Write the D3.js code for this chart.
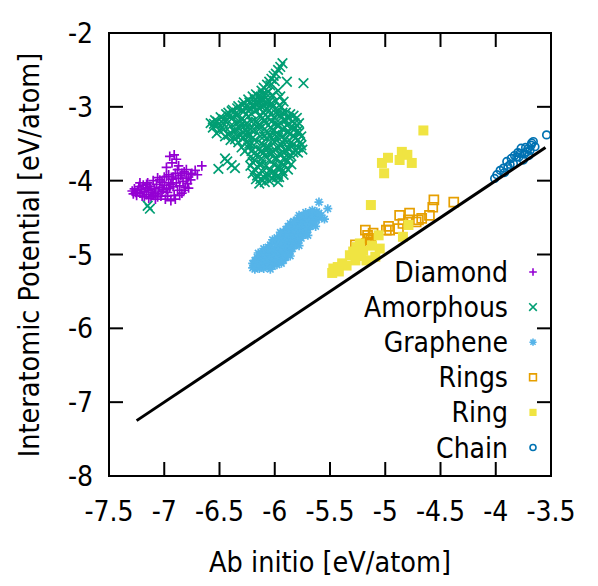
<!DOCTYPE html>
<html><head><meta charset="utf-8">
<script src="https://cdn.jsdelivr.net/npm/d3@7"></script>
<style>
html,body{margin:0;padding:0;background:#fff;}
text{font-family:"DejaVu Sans Condensed","DejaVu Sans",sans-serif;font-stretch:condensed;fill:#000;}
</style></head>
<body>
<svg id="chart" width="598" height="586"></svg>
<script>
const xTicks = [-7.5,-7,-6.5,-6,-5.5,-5,-4.5,-4,-3.5];
const yTicks = [-8,-7,-6,-5,-4,-3,-2];
const seriesNames = ["Diamond","Amorphous","Graphene","Rings","Ring","Chain"];
const seriesColors = ["#9400d3","#009e73","#56b4e9","#e69f00","#f0e442","#0072b2"];
const fitLine = [[-7.25,-7.25],[-3.55,-3.55]];

const diamond = [
[-7.29,-4.14],[-7.28,-4.18],[-7.27,-4.11],[-7.26,-4.16],[-7.25,-4.20],[-7.24,-4.13],[-7.23,-4.08],[-7.22,-4.17],[-7.21,-4.12],[-7.20,-4.21],
[-7.19,-4.06],[-7.18,-4.15],[-7.17,-4.10],[-7.16,-4.19],[-7.15,-4.03],[-7.14,-4.13],[-7.13,-4.08],[-7.12,-4.22],[-7.11,-4.16],[-7.10,-4.00],
[-7.09,-4.11],[-7.08,-4.18],[-7.07,-4.05],[-7.06,-3.96],[-7.05,-4.14],[-7.04,-4.09],[-7.03,-4.21],[-7.02,-4.02],[-7.01,-4.12],[-7.00,-4.06],
[-6.99,-4.25],[-6.98,-3.94],[-6.97,-4.16],[-6.96,-4.03],[-6.95,-4.10],[-6.94,-4.27],[-6.93,-3.98],[-6.92,-4.08],[-6.91,-4.20],[-6.90,-3.90],
[-6.89,-4.03],[-6.88,-4.13],[-6.87,-3.97],[-6.86,-4.07],[-6.85,-3.93],[-6.84,-4.17],[-6.83,-4.01],[-6.82,-3.88],[-6.81,-4.09],[-6.80,-3.97],
[-6.79,-4.04],[-6.78,-3.95],[-6.76,-3.99],[-6.75,-3.90],[-6.72,-3.86],[-6.70,-3.92],[-6.66,-3.80],[-6.95,-3.67],[-6.91,-3.65],[-6.89,-3.71],
[-7.08,-4.25],[-6.97,-4.21],
[-7.22,-4.03],[-7.18,-4.22],[-7.14,-4.24],[-7.10,-4.20],[-7.06,-4.22],[-7.04,-3.99],[-7.00,-3.95],[-6.98,-4.12],[-6.96,-3.92],[-6.94,-4.05],
[-6.92,-3.95],[-6.90,-4.25],[-6.88,-3.85],[-6.86,-4.20],[-6.84,-3.90],[-6.82,-4.13],[-6.80,-3.85],[-6.78,-4.10],[-6.76,-3.92],[-6.93,-3.76],
[-6.87,-3.80],[-6.98,-3.82],[-7.02,-4.15],[-7.12,-4.12],[-7.16,-4.05]
];

const amorphous = [
[-7.15,-4.34],[-7.13,-4.38],[-6.525,-3.36],[-6.51,-3.84],[-6.45,-3.70],[-6.39,-3.79],[-6.36,-3.83],[-6.43,-3.74],
[-5.93,-2.41],[-5.95,-2.46],[-5.97,-2.50],[-5.99,-2.55],[-6.01,-2.58],[-6.03,-2.62],[-6.05,-2.66],[-6.07,-2.70],[-6.10,-2.74],[-6.12,-2.78],
[-6.04,-2.71],[-6.00,-2.65],[-5.89,-2.66],[-5.74,-2.68],[-5.95,-2.86],[-5.92,-2.93],[-5.97,-2.78],[-6.02,-2.84],
[-6.58,-3.22],[-6.56,-3.28],[-6.54,-3.18],[-6.52,-3.25],[-6.50,-3.32],[-6.49,-3.14],[-6.47,-3.22],[-6.46,-3.30],[-6.44,-3.10],[-6.43,-3.18],
[-6.42,-3.38],[-6.40,-3.26],[-6.39,-3.06],[-6.38,-3.15],[-6.37,-3.33],[-6.36,-3.44],[-6.35,-3.22],[-6.34,-3.02],[-6.33,-3.10],[-6.32,-3.29],
[-6.31,-3.39],[-6.30,-3.17],[-6.29,-2.98],[-6.28,-3.06],[-6.27,-3.25],[-6.26,-3.48],[-6.25,-3.35],[-6.24,-3.13],[-6.23,-2.94],[-6.22,-3.02],
[-6.21,-3.20],[-6.20,-3.42],[-6.19,-3.30],[-6.18,-2.90],[-6.17,-3.05],[-6.16,-2.97],[-6.15,-2.86],[-6.14,-3.12],[-6.13,-2.92],[-6.12,-3.00],
[-6.11,-2.83],[-6.10,-3.08],[-6.09,-2.95],[-6.08,-2.88],[-6.07,-3.02],[-6.06,-2.80],[-6.05,-2.93],[-6.04,-3.10],
[-6.02,-3.00],[-6.00,-3.15],[-5.99,-2.92],[-5.98,-3.25],[-5.97,-3.05],[-5.96,-3.38],[-5.95,-3.12],[-5.94,-3.00],[-5.93,-3.30],[-5.92,-3.18],
[-5.91,-3.45],[-5.90,-3.08],[-5.89,-3.25],[-5.88,-3.55],[-5.87,-3.15],[-5.86,-3.36],[-5.85,-3.48],[-5.84,-3.20],[-5.83,-3.62],[-5.82,-3.30],
[-5.81,-3.42],[-5.80,-3.25],[-5.79,-3.55],[-5.78,-3.35],[-5.77,-3.48],[-5.76,-3.40],[-5.75,-3.58],[-5.86,-3.65],[-5.90,-3.60],[-5.94,-3.52],
[-6.08,-3.22],[-6.06,-3.35],[-6.04,-3.28],[-6.02,-3.45],[-6.00,-3.38],[-6.10,-3.40],[-6.12,-3.50],[-6.14,-3.30],
[-6.24,-3.55],[-6.22,-3.68],[-6.21,-3.60],[-6.20,-3.75],[-6.19,-3.52],[-6.18,-3.85],[-6.17,-3.66],[-6.16,-3.93],[-6.15,-3.58],[-6.14,-3.78],
[-6.13,-3.98],[-6.12,-3.70],[-6.11,-3.88],[-6.10,-3.62],[-6.09,-4.02],[-6.08,-3.80],[-6.07,-3.55],[-6.06,-3.92],[-6.05,-3.72],[-6.04,-3.85],
[-6.03,-3.64],[-6.02,-3.97],[-6.01,-3.78],[-6.00,-3.58],[-5.99,-3.90],[-5.98,-3.70],[-5.97,-3.82],[-5.96,-3.95],[-5.95,-3.63],[-5.94,-3.76],
[-5.93,-3.87],[-5.92,-3.70],[-5.91,-3.80],[-5.89,-3.74],[-5.87,-3.68],[-6.14,-4.04],[-6.05,-4.00],[-5.97,-4.02],
[-6.33,-3.48],[-6.30,-3.55],[-6.28,-3.42],[-6.27,-3.60],[-6.25,-3.22],[-6.23,-3.50],[-6.22,-3.30],[-6.20,-3.58],[-6.18,-3.45],[-6.17,-3.20],
[-6.13,-3.25],[-6.12,-3.60],[-6.11,-3.15],[-6.10,-3.52],[-6.09,-3.30],[-6.08,-3.68],[-6.07,-3.42],[-6.06,-3.15],[-6.05,-3.55],[-6.04,-3.40],
[-6.03,-3.20],[-6.02,-3.60],[-6.01,-3.32],[-6.00,-3.48],[-5.99,-3.22],[-5.98,-3.55],[-5.97,-3.42],[-5.96,-3.25],[-5.95,-3.50],[-5.93,-3.40],
[-5.92,-3.62],[-5.91,-3.28],[-5.89,-3.48],[-5.88,-3.35],[-5.87,-3.58],[-5.85,-3.28],[-5.84,-3.52],[-5.83,-3.40],[-5.81,-3.60],[-5.80,-3.15],
[-5.79,-3.45],[-5.78,-3.22],[-5.79,-3.62],[-6.35,-3.30],[-6.32,-3.20],[-6.29,-3.35],[-6.26,-3.10],[-6.24,-3.40],[-6.21,-3.10],[-6.19,-3.00],
[-6.14,-3.02],[-6.11,-2.98],[-6.09,-3.18],[-6.03,-2.95],[-5.98,-3.10],[-5.96,-2.98],[-5.93,-3.08],[-5.90,-3.18],[-5.86,-3.10],[-5.83,-3.12],
[-5.82,-3.22],[-5.79,-3.32],[-5.76,-3.52],[-5.85,-3.78],[-5.88,-3.85],[-5.92,-3.92],[-5.95,-3.82],[-6.00,-3.70],[-6.06,-3.62],[-6.12,-3.78],
[-6.18,-3.72],[-6.22,-3.80],[-6.20,-3.90],[-6.17,-3.98],[-6.10,-3.95],[-6.03,-3.90],[-5.98,-3.95],[-6.08,-2.82],[-6.12,-2.88],[-6.16,-2.92],
[-6.20,-2.97],[-6.25,-3.00],[-6.30,-3.05],[-6.36,-3.10],[-6.41,-3.13],[-6.46,-3.17],[-6.52,-3.20],[-6.55,-3.23],[-6.48,-3.28],[-6.40,-3.35],
[-6.34,-3.40],
[-6.45,-3.40],[-6.42,-3.08],[-6.40,-3.45],[-6.38,-3.04],[-6.33,-2.99],[-6.31,-3.25],[-6.28,-2.94],[-6.26,-3.30],[-6.24,-2.90],[-6.22,-3.38],
[-6.20,-2.86],[-6.17,-2.83],[-6.15,-3.25],[-6.13,-3.40],[-6.10,-2.90],[-6.07,-2.95],[-6.05,-3.05]
];

const graphene = [
[-6.20,-5.18],[-6.20,-5.12],[-6.18,-5.15],[-6.18,-5.20],[-6.18,-5.08],[-6.16,-5.10],[-6.16,-5.17],[-6.16,-5.04],
[-6.14,-5.13],[-6.14,-5.19],[-6.14,-5.06],[-6.14,-5.01],[-6.12,-5.09],[-6.12,-5.16],[-6.12,-5.03],[-6.12,-4.98],
[-6.10,-5.12],[-6.10,-5.19],[-6.10,-5.05],[-6.10,-4.97],[-6.08,-5.08],[-6.08,-5.15],[-6.08,-5.01],[-6.08,-4.94],
[-6.06,-5.11],[-6.06,-5.17],[-6.06,-5.04],[-6.06,-4.97],[-6.06,-4.90],[-6.04,-5.07],[-6.04,-5.14],[-6.04,-5.00],[-6.04,-4.93],[-6.04,-4.87],
[-6.02,-5.10],[-6.02,-5.16],[-6.02,-5.03],[-6.02,-4.95],[-6.02,-4.84],[-6.00,-5.05],[-6.00,-5.12],[-6.00,-4.98],[-6.00,-4.91],[-6.00,-4.81],
[-5.98,-5.08],[-5.98,-5.14],[-5.98,-5.01],[-5.98,-4.94],[-5.98,-4.86],[-5.98,-4.77],[-5.96,-5.03],[-5.96,-5.10],[-5.96,-4.96],[-5.96,-4.89],[-5.96,-4.80],
[-5.94,-5.06],[-5.94,-4.99],[-5.94,-4.92],[-5.94,-4.84],[-5.94,-4.74],[-5.92,-5.02],[-5.92,-5.08],[-5.92,-4.95],[-5.92,-4.87],[-5.92,-4.78],[-5.92,-4.70],
[-5.90,-4.98],[-5.90,-5.04],[-5.90,-4.90],[-5.90,-4.82],[-5.90,-4.73],[-5.90,-4.66],[-5.88,-4.94],[-5.88,-5.01],[-5.88,-4.86],[-5.88,-4.78],[-5.88,-4.69],
[-5.86,-4.96],[-5.86,-4.89],[-5.86,-4.81],[-5.86,-4.73],[-5.86,-4.64],[-5.86,-4.58],[-5.84,-4.92],[-5.84,-4.85],[-5.84,-4.77],[-5.84,-4.69],[-5.84,-4.60],
[-5.82,-4.88],[-5.82,-4.81],[-5.82,-4.73],[-5.82,-4.65],[-5.82,-4.56],[-5.80,-4.85],[-5.80,-4.77],[-5.80,-4.69],[-5.80,-4.61],[-5.80,-4.53],
[-5.78,-4.81],[-5.78,-4.74],[-5.78,-4.66],[-5.78,-4.58],[-5.78,-4.51],[-5.76,-4.78],[-5.76,-4.70],[-5.76,-4.62],[-5.76,-4.55],[-5.76,-4.49],
[-5.74,-4.74],[-5.74,-4.67],[-5.74,-4.59],[-5.74,-4.52],[-5.74,-4.47],[-5.72,-4.70],[-5.72,-4.63],[-5.72,-4.56],[-5.72,-4.49],
[-5.70,-4.66],[-5.70,-4.59],[-5.70,-4.52],[-5.70,-4.46],[-5.68,-4.62],[-5.68,-4.55],[-5.68,-4.49],[-5.68,-4.44],
[-5.66,-4.60],[-5.66,-4.52],[-5.66,-4.46],[-5.64,-4.56],[-5.64,-4.49],[-5.64,-4.43],[-5.62,-4.53],[-5.62,-4.46],[-5.62,-4.42],
[-5.60,-4.50],[-5.60,-4.44],[-5.60,-4.29],[-5.58,-4.47],[-5.55,-4.52],[-5.52,-4.38],
[-6.10,-4.92],[-6.02,-4.80],[-5.95,-4.70],[-5.88,-4.62],[-5.83,-4.55],[-5.78,-4.47],[-5.72,-4.43],[-5.66,-4.40],[-6.15,-4.98],
[-6.04,-5.20],[-5.94,-5.12],[-5.86,-5.02],[-5.78,-4.88],[-5.70,-4.74],[-5.63,-4.62]
];

const rings = [
[-4.56,-4.26],[-4.57,-4.36],[-4.38,-4.29],[-4.60,-4.47],[-4.67,-4.51],[-4.70,-4.53],[-4.78,-4.44],[-4.87,-4.47],[-4.79,-4.53],[-4.88,-4.65],
[-4.97,-4.62],[-4.99,-4.67],[-5.11,-4.71],[-5.18,-4.67],[-5.15,-4.78],[-5.17,-4.85],[-5.14,-4.83],[-5.27,-4.87],[-4.96,-4.67],[-5.16,-4.74],
[-5.13,-4.80],[-4.72,-4.56],[-4.84,-4.58]
];

const ring = [
[-4.655,-3.32],[-4.85,-3.61],[-4.80,-3.65],[-4.975,-3.69],[-5.03,-3.76],[-4.87,-3.72],[-4.76,-3.76],[-5.01,-3.90],[-5.13,-4.33],[-5.47,-5.19],
[-5.43,-5.17],[-5.39,-5.12],[-5.32,-5.01],[-5.26,-4.90],[-5.23,-4.85],[-5.06,-4.74],[-5.05,-4.92],[-5.09,-5.03],[-4.84,-4.76],[-4.79,-4.60],
[-5.17,-5.08],[-5.27,-5.08],[-5.29,-4.96],[-5.20,-4.95],[-5.12,-4.88],[-5.45,-5.22],[-5.35,-5.15],[-5.22,-5.02],[-5.48,-5.25],[-5.42,-5.23]
];

const chain = [
[-4.01,-3.97],[-3.99,-3.92],[-3.96,-3.86],[-3.93,-3.83],[-3.90,-3.74],[-3.86,-3.70],[-3.84,-3.77],[-3.81,-3.68],[-3.78,-3.63],[-3.77,-3.56],
[-3.75,-3.72],[-3.72,-3.61],[-3.69,-3.59],[-3.675,-3.49],[-3.66,-3.47],[-3.645,-3.54],[-3.70,-3.66],[-3.54,-3.38],[-3.89,-3.81],[-3.79,-3.68],
[-3.73,-3.55],[-3.80,-3.62],[-3.68,-3.52],[-3.71,-3.57],[-3.87,-3.78],[-3.92,-3.89],[-3.83,-3.66],[-3.74,-3.64]
];

const svg = d3.select("#chart");
const L=109, R=551, T=33, B=476;
const x = d3.scaleLinear().domain([-7.5,-3.5]).range([L,R]);
const y = d3.scaleLinear().domain([-8,-2]).range([B,T]);

function markerPath(type, s){
  switch(type){
    case "plus": return `M${-s},0H${s}M0,${-s}V${s}`;
    case "cross": return `M${-s},${-s}L${s},${s}M${-s},${s}L${s},${-s}`;
    case "star": { const d=s*0.72; return `M${-s},0H${s}M0,${-s}V${s}M${-d},${-d}L${d},${d}M${-d},${d}L${d},${-d}`; }
    case "square": return `M${-s},${-s}H${s}V${s}H${-s}Z`;
    case "circle": return d3.arc()({innerRadius:0,outerRadius:s,startAngle:0,endAngle:2*Math.PI});
  }
}
const types = ["plus","cross","star","square","square","circle"];
const filled = [false,false,false,false,true,false];
const plotSize = [4.8,4.8,4.5,4.5,5.0,3.8];
const keySize = [3.8,3.8,3.6,3.4,3.6,3.0];
const datasets = [diamond, amorphous, graphene, rings, ring, chain];

const plotG = svg.append("g");
datasets.forEach((ds,i)=>{
  plotG.append("g").selectAll("path").data(ds).join("path")
    .attr("transform", d=>`translate(${x(d[0])},${y(d[1])})`)
    .attr("d", markerPath(types[i], plotSize[i]))
    .attr("fill", filled[i] ? seriesColors[i] : "none")
    .attr("stroke", filled[i] ? "none" : seriesColors[i])
    .attr("stroke-width", 1.7);
});

svg.append("path")
  .attr("d", d3.line().x(d=>x(d[0])).y(d=>y(d[1]))(fitLine))
  .attr("stroke","#000").attr("stroke-width",3).attr("fill","none");

const axG = svg.append("g").attr("stroke","#000").attr("stroke-width",2);
const tl = 14;
xTicks.forEach(t=>{
  if (t===-7.5 || t===-3.5) return;
  axG.append("line").attr("x1",x(t)).attr("x2",x(t)).attr("y1",B).attr("y2",B-tl);
  axG.append("line").attr("x1",x(t)).attr("x2",x(t)).attr("y1",T).attr("y2",T+tl);
});
yTicks.forEach(t=>{
  if (t===-8 || t===-2) return;
  axG.append("line").attr("y1",y(t)).attr("y2",y(t)).attr("x1",L).attr("x2",L+tl);
  axG.append("line").attr("y1",y(t)).attr("y2",y(t)).attr("x1",R).attr("x2",R-tl);
});
axG.append("rect").attr("x",L).attr("y",T).attr("width",R-L).attr("height",B-T).attr("fill","none");

const fs = 28, fsTitle = 28.5;
svg.append("g").selectAll("text").data(xTicks).join("text")
  .attr("x", d=>x(d)).attr("y", 521).attr("text-anchor","middle")
  .attr("font-size",fs).text(d=>String(d));
svg.append("g").selectAll("text").data(yTicks).join("text")
  .attr("x", 93).attr("y", d=>y(d)+10).attr("text-anchor","end")
  .attr("font-size",fs).text(d=>String(d));

svg.append("text").attr("x",330).attr("y",572).attr("text-anchor","middle")
  .attr("font-size",fsTitle).text("Ab initio [eV/atom]");
svg.append("text").attr("transform","translate(39,255) rotate(-90)").attr("text-anchor","middle")
  .attr("font-size",fsTitle).text("Interatomic Potential [eV/atom]");

const keyY0 = 272, keyDy = 35.1;
seriesNames.forEach((n,i)=>{
  const cy = keyY0 + i*keyDy;
  svg.append("text").attr("x",508).attr("y",cy+10).attr("text-anchor","end")
    .attr("font-size",fs).text(n);
  svg.append("path").attr("transform",`translate(533,${cy})`)
    .attr("d", markerPath(types[i], keySize[i]))
    .attr("fill", filled[i] ? seriesColors[i] : "none")
    .attr("stroke", filled[i] ? "none" : seriesColors[i])
    .attr("stroke-width",1.6);
});
</script>
</body></html>
